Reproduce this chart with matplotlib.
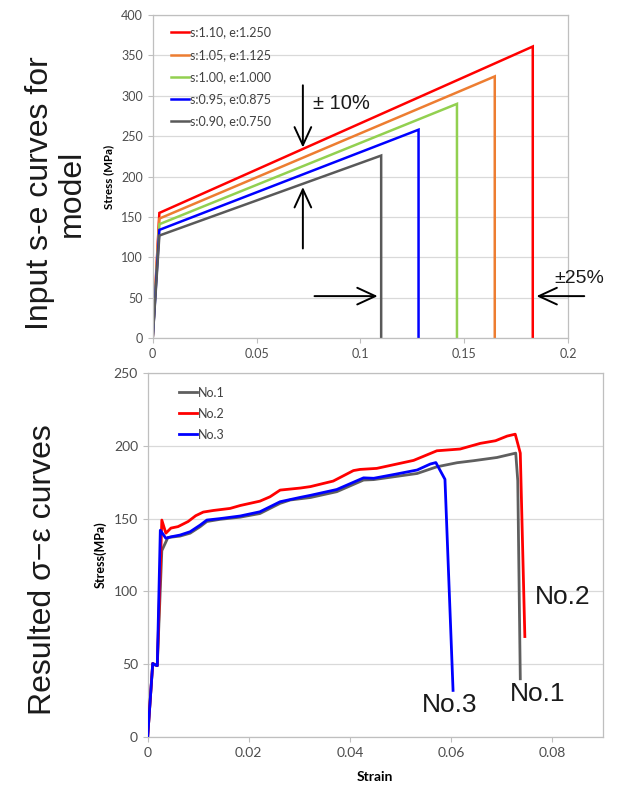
import matplotlib
matplotlib.use("Agg")
import matplotlib.pyplot as plt

# ---------------- data: top (input s-e curves) ----------------
top_labels = ["s:1.10, e:1.250", "s:1.05, e:1.125", "s:1.00, e:1.000",
              "s:0.95, e:0.875", "s:0.90, e:0.750"]
top_colors = ["#FF0000", "#ED7D31", "#92D050", "#0000FF", "#595959"]
yield_strain = [0.0032, 0.0032, 0.0032, 0.0032, 0.0032]
yield_stress = [155, 148, 141, 134, 127]
end_strain = [0.183, 0.1647, 0.1465, 0.128, 0.110]
end_stress = [361, 324, 290, 258, 226]

top_xticks = [0, 0.05, 0.1, 0.15, 0.2]
top_xticklabels = ["0", "0.05", "0.1", "0.15", "0.2"]
top_yticks = [0, 50, 100, 150, 200, 250, 300, 350, 400]

# ---------------- data: bottom (resulted curves) ----------------
no1_strain = [0, 0.001, 0.0015, 0.0019, 0.0028, 0.0040, 0.0064, 0.0084, 0.0104,
              0.0117, 0.0143, 0.0183, 0.0222, 0.0262, 0.0282, 0.0322, 0.0374,
              0.0427, 0.0447, 0.0533, 0.0572, 0.0612, 0.0645, 0.0691, 0.0728,
              0.0732, 0.0737]
no1_stress = [0, 50.5, 49.5, 49, 128, 137, 138, 140, 144.5, 148, 149.5, 151,
              153.5, 160.5, 162.8, 164.5, 168.5, 176.5, 176.8, 181, 185.6,
              188.4, 189.8, 192, 195, 176, 40]

no2_strain = [0, 0.001, 0.0015, 0.0019, 0.0028, 0.0036, 0.0046, 0.006, 0.008,
              0.0095, 0.011, 0.013, 0.0163, 0.0183, 0.0222, 0.0242, 0.0262,
              0.0302, 0.0322, 0.0367, 0.0407, 0.042, 0.0453, 0.0526, 0.0572,
              0.0618, 0.0658, 0.0688, 0.0711, 0.0727, 0.0737, 0.0746]
no2_stress = [0, 50.5, 49.5, 49, 149, 140, 143.5, 144.5, 148, 152, 154.5,
              155.6, 157, 159, 162, 165, 169.6, 171, 172, 175.8, 183, 183.8,
              184.5, 190, 196.6, 197.8, 201.7, 203.5, 206.7, 208, 195, 69]

no3_strain = [0, 0.001, 0.0015, 0.0019, 0.0025, 0.0036, 0.0046, 0.0064, 0.0084,
              0.0104, 0.0117, 0.0143, 0.0183, 0.0222, 0.0262, 0.0302, 0.0322,
              0.0374, 0.0427, 0.0447, 0.0490, 0.0533, 0.0559, 0.0570, 0.0588,
              0.0604]
no3_stress = [0, 50.5, 49.5, 49, 142, 136.5, 137.5, 138.7, 141, 145.6, 149,
              150, 151.8, 154.7, 161.6, 164.6, 166, 170, 178, 177.7, 180.5,
              183.4, 187.5, 188.5, 177, 32]

bot_labels = ["No.1", "No.2", "No.3"]
bot_colors = ["#5F5F5F", "#FF0000", "#0000FF"]
bot_xticks = [0, 0.02, 0.04, 0.06, 0.08]
bot_xticklabels = ["0", "0.02", "0.04", "0.06", "0.08"]
bot_yticks = [0, 50, 100, 150, 200, 250]

# ---------------- styling ----------------
CHART_FONT = ["Lato", "DejaVu Sans"]
ANN_FONT = ["Liberation Sans", "DejaVu Sans"]
GRID = "#D9D9D9"
SPINE = "#BFBFBF"
TICKC = "#4D4D4D"

fig = plt.figure(figsize=(6.39, 7.90), dpi=100)

def style_axes(ax, fs):
    for s in ax.spines.values():
        s.set_color(SPINE)
        s.set_linewidth(0.9)
    ax.grid(axis="y", color=GRID, linewidth=0.9)
    ax.set_axisbelow(True)
    ax.tick_params(axis="both", colors=SPINE, labelcolor=TICKC, length=3.5,
                   width=0.8, labelsize=fs)
    for lab in ax.get_xticklabels() + ax.get_yticklabels():
        lab.set_family(CHART_FONT)

# ---------------- top axes ----------------
ax1 = fig.add_axes([0.239, 0.572, 0.650, 0.409])
for lab, c, ys, yv, es, ev in zip(top_labels, top_colors, yield_strain,
                                  yield_stress, end_strain, end_stress):
    ax1.plot([0, ys, es, es], [0, yv, ev, 0], color=c, lw=1.8, label=lab,
             solid_joinstyle="miter")
ax1.set_xlim(0, 0.2)
ax1.set_ylim(0, 400)
ax1.set_xticks(top_xticks)
ax1.set_xticklabels(top_xticklabels)
ax1.set_yticks(top_yticks)
style_axes(ax1, 9)
ax1.set_ylabel("Stress (MPa)", family=CHART_FONT, fontweight="bold",
               fontsize=8.3, color="#000000", labelpad=5)
leg1 = ax1.legend(loc="upper left", bbox_to_anchor=(0.045, 0.964),
                  frameon=False, borderpad=0, borderaxespad=0,
                  handlelength=1.4, handletextpad=0.1, labelspacing=0.82,
                  prop={"family": CHART_FONT, "size": 9})
for t in leg1.get_texts():
    t.set_color("#404040")

arw = dict(arrowstyle="->,head_length=1.3,head_width=0.6", color="black",
           lw=1.4, shrinkA=0, shrinkB=0)
ax1.annotate("", xy=(0.0723, 236), xytext=(0.0723, 313), arrowprops=arw)
ax1.annotate("", xy=(0.0723, 187), xytext=(0.0723, 111), arrowprops=arw)
ax1.annotate("", xy=(0.1083, 52), xytext=(0.0779, 52), arrowprops=arw)
ax1.annotate("", xy=(0.1848, 52), xytext=(0.2078, 52), arrowprops=arw,
             annotation_clip=False)
ax1.text(0.077, 291, "± 10%", family=ANN_FONT, fontsize=14.5, ha="left",
         va="center", color="#1a1a1a")
ax1.text(0.1934, 74, "±25%", family=ANN_FONT, fontsize=14, ha="left",
         va="center", color="#1a1a1a", clip_on=False)

# ---------------- bottom axes ----------------
ax2 = fig.add_axes([0.2311, 0.0671, 0.7121, 0.4607])
ax2.plot(no1_strain, no1_stress, color=bot_colors[0], lw=2.0, label=bot_labels[0], zorder=3)
ax2.plot(no2_strain, no2_stress, color=bot_colors[1], lw=2.0, label=bot_labels[1], zorder=4)
ax2.plot(no3_strain, no3_stress, color=bot_colors[2], lw=2.0, label=bot_labels[2], zorder=5)
ax2.set_xlim(0, 0.09)
ax2.set_ylim(0, 250)
ax2.set_xticks(bot_xticks)
ax2.set_xticklabels(bot_xticklabels)
ax2.set_yticks(bot_yticks)
style_axes(ax2, 10)
ax2.set_ylabel("Stress(MPa)", family=CHART_FONT, fontweight="bold",
               fontsize=9, color="#000000", labelpad=5)
ax2.set_xlabel("Strain", family=CHART_FONT, fontweight="bold",
               fontsize=10, color="#000000", labelpad=9)
leg2 = ax2.legend(loc="upper left", bbox_to_anchor=(0.069, 0.962),
                  frameon=False, borderpad=0, borderaxespad=0,
                  handlelength=1.4, handletextpad=0.1, labelspacing=0.72,
                  prop={"family": CHART_FONT, "size": 9})
for t in leg2.get_texts():
    t.set_color("#404040")

ax2.text(no2_strain[-1] + 0.0020, 96, "No.2", family=ANN_FONT, fontsize=19,
         ha="left", va="center", color="#1a1a1a")
ax2.text(no1_strain[-1] + 0.0035, 29.5, "No.1", family=ANN_FONT, fontsize=19,
         ha="center", va="center", color="#1a1a1a")
ax2.text(no3_strain[-1] - 0.0007, 22, "No.3", family=ANN_FONT, fontsize=19,
         ha="center", va="center", color="#1a1a1a")

# ---------------- side titles ----------------
fig.text(56 / 639, 1 - 193 / 790, "Input s-e curves for\nmodel", rotation=90,
         family=ANN_FONT, fontsize=23, ha="center", va="center",
         multialignment="center", linespacing=1.05, color="#1a1a1a")
fig.text(43 / 639, 1 - 570 / 790, "Resulted σ−ε curves", rotation=90,
         family=ANN_FONT, fontsize=23, ha="center", va="center",
         color="#1a1a1a")

fig.savefig("out.png", dpi=100)
